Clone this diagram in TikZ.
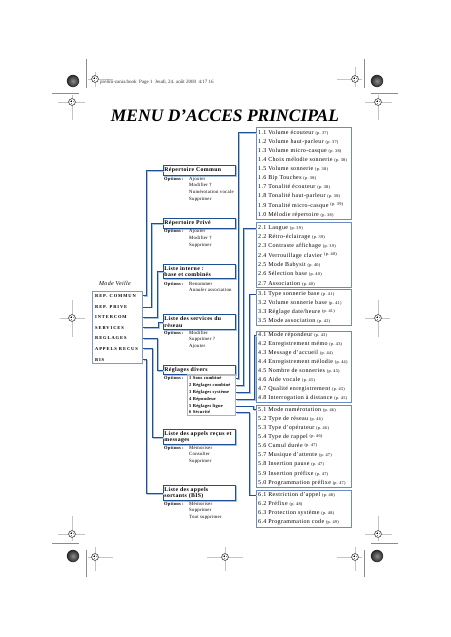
\documentclass[tikz,border=0pt]{standalone}
\usepackage{fontspec}
\setmainfont{Liberation Serif}
\newfontfamily\rcfont[LetterSpace=6]{Liberation Serif}
\newfontfamily\hdfont[LetterSpace=6]{Liberation Serif}
\newfontfamily\opfont[LetterSpace=5]{Liberation Serif}
\newfontfamily\mvfont[LetterSpace=20]{Liberation Serif}
\definecolor{dblue}{HTML}{1F4F99}
\definecolor{lblue}{HTML}{A9C1E0}
\definecolor{mblue}{HTML}{6A8CC0}
\definecolor{regg}{HTML}{C4C4C4}
\newcommand{\pg}[1]{{\fontsize{4.3}{5}\selectfont(p.~#1)}}
\newcommand{\pgu}[1]{\raisebox{1.2pt}{\pg{#1}}}
\begin{document}
\begin{tikzpicture}[x=1pt,y=-1pt,
  rbox/.style={draw=mblue, line width=0.8, anchor=north west, inner sep=0, minimum width=95},
  rline/.style={anchor=mid west, inner sep=0, font=\rcfont\fontsize{6}{7}\selectfont},
  hbox/.style={draw=dblue, line width=0.9, anchor=north west, minimum width=72, text width=70,
     inner xsep=1, inner ysep=1, align=left, fill=white,
     font=\hdfont\bfseries\fontsize{5.8}{6.6}\selectfont,
     preaction={draw=lblue, line width=1.1, transform canvas={shift={(1,1)}}}},
  optl/.style={anchor=mid west, inner sep=0, font=\opfont\bfseries\fontsize{4.5}{5}\selectfont},
  optv/.style={anchor=mid west, inner sep=0, font=\opfont\fontsize{4.8}{5.5}\selectfont},
  regitem/.style={anchor=mid west, inner sep=0, font=\opfont\bfseries\fontsize{4.5}{5}\selectfont},
  mvitem/.style={anchor=mid west, inner sep=0, font=\mvfont\bfseries\fontsize{4.5}{5}\selectfont},
  conn/.style={draw=dblue, line width=0.7, preaction={draw=lblue, line width=1.1, transform canvas={shift={(1,1)}}}},
  regl/.style={draw=regg, line width=0.6},
  regv/.style={draw=black!45, line width=0.4},
  target/.pic={\fill[white] (0,0) circle (3.6); \draw[line width=0.45] (0,0) circle (3.4); \fill (0,0) circle (1.9);
     \draw[white, line width=0.3] (-1.9,0) -- (1.9,0) (0,-1.9) -- (0,1.9);},
  darkdot/.style={inner color=black!45, outer color=black!85}
]
\useasboundingbox (0,0) rectangle (450,637);
\fill[white] (0,0) rectangle (450,637);

% ---------- registration marks ----------
% top row
\shade[darkdot] (73,81) circle (6.2);
\draw[regv] (86,59) -- (86,88);
\draw[regl] (88,79) -- (113,79) (95,72) -- (95,87);
\pic at (95,79) {target};
\draw[regl] (337,79) -- (362,79) (355,67) -- (355,87);
\pic at (355,79) {target};
\draw[regv] (364,59) -- (364,88);
\shade[darkdot] (377,81) circle (6.2);
% second row
\draw[regv] (52,93) -- (79,93);
\draw[regl] (58,102) -- (85,102) (72,95) -- (72,120);
\pic at (72,102) {target};
\draw[regv] (371,93) -- (398,93);
\draw[regl] (365,102) -- (392,102) (378,95) -- (378,120);
\pic at (378,102) {target};
% middle
\draw[regl] (60,318) -- (85,318) (72,300) -- (72,337);
\pic at (72,318) {target};
\draw[regl] (365,318) -- (390,318) (378,300) -- (378,337);
\pic at (378,318) {target};
% lower row
\draw[regl] (58,534) -- (85,534) (72,516) -- (72,541);
\pic at (72,534) {target};
\draw[regv] (52,543) -- (79,543);
\draw[regl] (365,534) -- (392,534) (378,516) -- (378,541);
\pic at (378,534) {target};
\draw[regv] (371,543) -- (398,543);
% bottom row
\shade[darkdot] (73,556) circle (6.2);
\draw[regv] (86,550) -- (86,577);
\draw[regl] (88,557) -- (113,557) (95,547) -- (95,571);
\pic at (95,557) {target};
\draw[regl] (207,557) -- (243,557) (225,547) -- (225,571);
\pic at (225,557) {target};
\draw[regl] (337,557) -- (362,557) (355,547) -- (355,571);
\pic at (355,557) {target};
\draw[regv] (364,550) -- (364,577);
\shade[darkdot] (377,556) circle (6.2);

\node[anchor=mid west, inner sep=0, text=black!80, font=\fontsize{5}{6}\selectfont] (hdr) at (100,81)
  {prelim-zania.book\enspace Page 1\enspace Jeudi, 24. août 2000\enspace 4:17 16};

% ---------- title ----------
\node[inner sep=0, font=\bfseries\itshape\fontsize{17.5}{20}\selectfont] (title) at (225,116) {MENU D’ACCES PRINCIPAL};

% ---------- right column ----------
\node[rbox, minimum height=92] (b1) at (256,127) {};
\foreach \t [count=\i] in {
  {1.1 Volume écouteur \pg{37}},
  {1.2 Volume haut-parleur \pg{37}},
  {1.3 Volume micro-casque \pg{38}},
  {1.4 Choix mélodie sonnerie \pg{38}},
  {1.5 Volume sonnerie \pg{38}},
  {1.6 Bip Touches \pg{38}},
  {1.7 Tonalité écouteur \pg{38}},
  {1.8 Tonalité haut-parleur \pg{38}},
  {1.9 Tonalité micro-casque \pgu{39}},
  {1.0 Mélodie répertoire \pg{38}}}
  \node[rline] (b1l\i) at (258,{132+9.1*(\i-1)}) {\t};

\node[rbox, minimum height=65] (b2) at (256,222) {};
\foreach \t [count=\i] in {
  {2.1 Langue \pg{39}},
  {2.2 Rétro-éclairage \pg{39}},
  {2.3 Contraste affichage \pg{39}},
  {2.4 Verrouillage clavier \pgu{40}},
  {2.5 Mode Babysit \pg{40}},
  {2.6 Sélection base \pg{40}},
  {2.7 Association \pg{40}}}
  \node[rline] (b2l\i) at (258,{227+9.3*(\i-1)}) {\t};

\node[rbox, minimum height=36] (b3) at (256,289) {};
\foreach \t [count=\i] in {
  {3.1 Type sonnerie base \pg{41}},
  {3.2 Volume sonnerie base \pg{41}},
  {3.3 Réglage date/heure \pgu{41}},
  {3.5 Mode association \pg{42}}}
  \node[rline] (b3l\i) at (258,{293+9*(\i-1)}) {\t};

\node[rbox, minimum height=71] (b4) at (256,331) {};
\foreach \t [count=\i] in {
  {4.1 Mode répondeur \pg{43}},
  {4.2 Enregistrement mémo \pg{43}},
  {4.3 Message d’accueil \pg{44}},
  {4.4 Enregistrement mélodie \pg{44}},
  {4.5 Nombre de sonneries \pg{45}},
  {4.6 Aide vocale \pg{45}},
  {4.7 Qualité enregistrement \pg{45}},
  {4.8 Interrogation à distance \pg{45}}}
  \node[rline] (b4l\i) at (258,{334.5+9*(\i-1)}) {\t};

\node[rbox, minimum height=82] (b5) at (256,405) {};
\foreach \t [count=\i] in {
  {5.1 Mode numérotation \pg{46}},
  {5.2 Type de réseau \pg{46}},
  {5.3 Type d’opérateur \pg{46}},
  {5.4 Type de rappel \pgu{46}},
  {5.6 Cumul durée \pgu{47}},
  {5.7 Musique d’attente \pg{47}},
  {5.8 Insertion pause \pg{47}},
  {5.9 Insertion préfixe \pg{47}},
  {5.0 Programmation préfixe \pg{47}}}
  \node[rline] (b5l\i) at (258,{409+9.1*(\i-1)}) {\t};

\node[rbox, minimum height=37] (b6) at (256,490) {};
\foreach \t [count=\i] in {
  {6.1 Restriction d’appel \pg{48}},
  {6.2 Préfixe \pg{48}},
  {6.3 Protection système \pg{48}},
  {6.4 Programmation code \pg{49}}}
  \node[rline] (b6l\i) at (258,{494+9.2*(\i-1)}) {\t};

% ---------- middle column ----------
\node[hbox, minimum height=10] (h1) at (163,165) {Répertoire Commun};
\node[optl] (o1) at (164,178) {Options :};
\foreach \t/\y [count=\i] in {Ajouter/178, Modifier †/184.5, Numérotation vocale/191, Supprimer/198}
  \node[optv] (o1v\i) at (189,\y) {\t};

\node[hbox, minimum height=10] (h2) at (163,218) {Répertoire Privé};
\node[optl] (o2) at (164,230) {Options :};
\foreach \t/\y [count=\i] in {Ajouter/230, Modifier †/237, Supprimer/244}
  \node[optv] (o2v\i) at (189,\y) {\t};

\node[hbox, minimum height=14] (h3) at (163,264) {Liste interne :\\base et combinés};
\node[optl] (o3) at (164,283) {Options :};
\foreach \t/\y [count=\i] in {Renommer/283, Annuler association/289}
  \node[optv] (o3v\i) at (189,\y) {\t};

\node[hbox, minimum height=15] (h4) at (163,314) {Liste des services du\\réseau};
\node[optl] (o4) at (164,332) {Options :};
\foreach \t/\y [count=\i] in {Modifier/332, Supprimer ?/338.5, Ajouter/345}
  \node[optv] (o4v\i) at (189,\y) {\t};

\node[hbox, minimum height=9] (h5) at (163,365) {Réglages divers};
\node[draw=black!30, line width=0.8, anchor=north west, inner sep=0, minimum width=48, minimum height=41] (rlist) at (187,374) {};
\node[optl] (o5) at (164,377.5) {Options :};
\foreach \t/\y [count=\i] in {1 Sons combiné/377.5, 2 Réglages combiné/384.3, 3 Réglages système/391.1, 4 Répondeur/397.9, 5 Réglages ligne/404.7, 6 Sécurité/411.5}
  \node[regitem] (rg\i) at (189,\y) {\t};

\node[hbox, minimum height=15] (h6) at (163,429) {\mbox{Liste des appels reçus et}\\messages};
\node[optl] (o6) at (164,447) {Options :};
\foreach \t/\y [count=\i] in {Mémoriser/447, Consulter/453.5, Supprimer/460}
  \node[optv] (o6v\i) at (189,\y) {\t};

\node[hbox, minimum height=15] (h7) at (163,485) {Liste des appels\\sortants (BIS)};
\node[optl] (o7) at (164,503) {Options :};
\foreach \t/\y [count=\i] in {Mémoriser/503, Supprimer/509.5, Tout supprimer/516}
  \node[optv] (o7v\i) at (189,\y) {\t};

% ---------- Mode Veille ----------
\node[inner sep=0, font=\hdfont\itshape\fontsize{6}{7}\selectfont] (mvt) at (115,283) {Mode Veille};
\node[draw=mblue!85, line width=0.8, anchor=north west, inner sep=0, minimum width=50, minimum height=72] (mvbox) at (92,291) {};
\foreach \t/\y [count=\i] in {REP. COMMUN/295, REP. PRIVE/306, INTERCOM/316.5, SERVICES/327, REGLAGES/337.5, APPELS RECUS/348, BIS/359}
  \node[mvitem] (mv\i) at (95,\y) {\t};

% ---------- connectors: Mode Veille -> menus ----------
\draw[conn] (mvbox.east |- mv1) -- ++(4,0) |- (h1.west);
\draw[conn] (mvbox.east |- mv2) -- ++(9,0) |- (h2.west);
\draw[conn] (mvbox.east |- mv3) -- ++(15,0) |- (h3.west);
\draw[conn] (mvbox.east |- mv4) -- ++(16,0) |- (h4.west);
\draw[conn] (mvbox.east |- mv5) -- ++(15,0) |- (h5.west);
\draw[conn] (mvbox.east |- mv6) -- ++(10,0) |- (h6.west);
\draw[conn] (mvbox.east |- mv7) -- ++(4,0) |- (h7.west);

% ---------- connectors: Réglages divers -> sub-menus ----------
\draw[conn] (rlist.east |- rg1) -- ++(3,0) |- (b1.west |- b1l1);
\draw[conn] (rlist.east |- rg2) -- ++(8,0) |- (b2.west |- b2l1);
\draw[conn] (rlist.east |- rg3) -- ++(14,0) |- (b3.west |- b3l1);
\draw[conn] (rlist.east |- rg4) -- ++(19,0) |- (b4.west |- b4l1);
\draw[conn] (rlist.east |- rg5) -- ++(18,0) |- (b5.west |- b5l1);
\draw[conn] (rlist.east |- rg6) -- ++(14,0) |- (b6.west |- b6l1);
\end{tikzpicture}
\end{document}
